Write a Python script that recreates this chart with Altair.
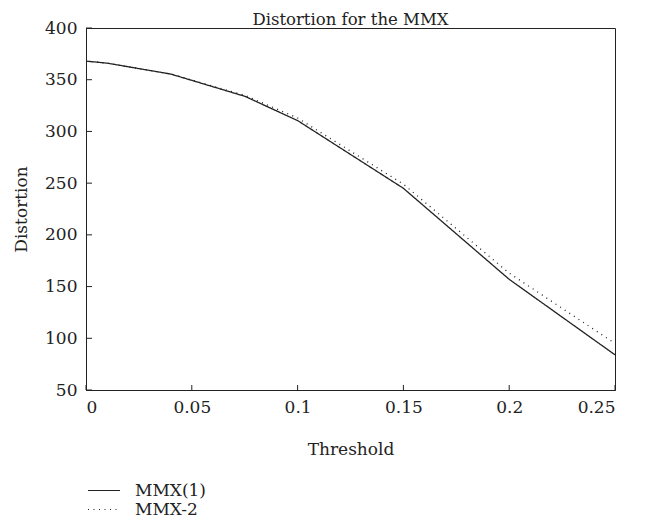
import altair as alt
import pandas as pd

thresholds = [0, 0.01, 0.04, 0.075, 0.1, 0.15, 0.2, 0.25]
mmx1 = [368, 366, 355.5, 334, 310.5, 245, 157, 84]
mmx2 = [368, 366, 355.5, 335, 313, 249, 163, 95]
series_names = ["MMX(1)", "MMX-2"]
x_ticks = [0, 0.05, 0.1, 0.15, 0.2, 0.25]
y_ticks = [50, 100, 150, 200, 250, 300, 350, 400]

rows = []
for name, vals in zip(series_names, [mmx1, mmx2]):
    for t, v in zip(thresholds, vals):
        rows.append({"Threshold": t, "Distortion": v, "Series": name})
df = pd.DataFrame(rows)
xt = pd.DataFrame({"Threshold": x_ticks})
yt = pd.DataFrame({"Distortion": y_ticks})

FONT = "DejaVu Serif"
FS = 17
INK = "#222"

xscale = alt.Scale(domain=[0, 0.25], nice=False, zero=False)
yscale = alt.Scale(domain=[50, 400], nice=False, zero=False)

lines = alt.Chart(df).mark_line(strokeWidth=1.3, color=INK).encode(
    x=alt.X("Threshold:Q", scale=xscale,
            axis=alt.Axis(values=x_ticks, format="~g", title="Threshold",
                          ticks=False, labelPadding=9, titlePadding=26)),
    y=alt.Y("Distortion:Q", scale=yscale,
            axis=alt.Axis(values=y_ticks, title="Distortion",
                          ticks=False, labelPadding=9, titlePadding=14)),
    strokeDash=alt.StrokeDash("Series:N",
                              scale=alt.Scale(domain=series_names, range=[[1, 0], [1, 4.5]]),
                              legend=alt.Legend(title=None, orient="none", legendX=1, legendY=453,
                                                symbolType="stroke", symbolSize=1024,
                                                symbolStrokeColor=INK, symbolStrokeWidth=1.2,
                                                clipHeight=19, rowPadding=0, labelOffset=14,
                                                labelFont=FONT, labelFontSize=FS, labelColor=INK)),
    detail="Series:N",
)

xticks_layer = alt.Chart(xt).mark_rule(color=INK, strokeWidth=1, y2Offset=-5).encode(
    x=alt.X("Threshold:Q", scale=xscale),
    y=alt.datum(50),
    y2=alt.datum(50),
)
yticks_layer = alt.Chart(yt).mark_rule(color=INK, strokeWidth=1, x2Offset=6).encode(
    y=alt.Y("Distortion:Q", scale=yscale),
    x=alt.datum(0),
    x2=alt.datum(0),
)

chart = alt.layer(lines, xticks_layer, yticks_layer).properties(
    width=529, height=362,
    title=alt.Title("Distortion for the MMX", font=FONT, fontSize=16.5, fontWeight="normal",
                    color=INK, offset=0, dy=22, baseline="alphabetic"),
    autosize=alt.AutoSizeParams(type="none"),
    padding={"left": 78, "top": 20, "right": 26, "bottom": 130},
).configure_axis(
    grid=False, domainColor=INK, labelColor=INK, titleColor=INK,
    labelFont=FONT, labelFontSize=FS, titleFont=FONT, titleFontSize=FS, titleFontWeight="normal",
    domainWidth=1,
).configure_view(
    stroke=INK, strokeWidth=1,
)

chart.save("out.html", embed_options={"renderer": "svg", "actions": False})
